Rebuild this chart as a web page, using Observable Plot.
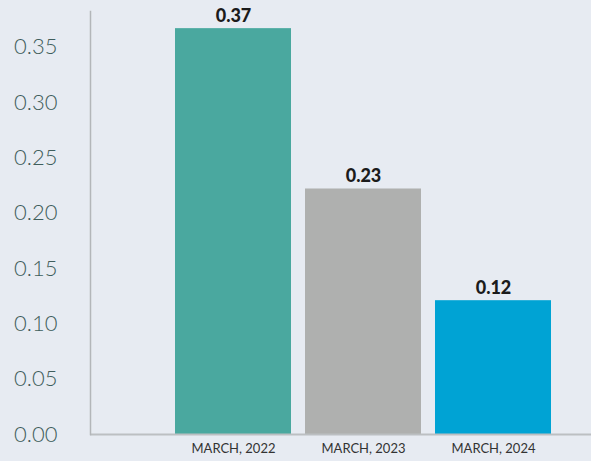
<!DOCTYPE html>
<html><head><meta charset="utf-8">
<script src="https://cdn.jsdelivr.net/npm/d3@7"></script>
<script src="https://cdn.jsdelivr.net/npm/@observablehq/plot@0.6"></script>
<style>
html,body{margin:0;padding:0;background:#e7ebf2;}
</style></head><body><div id="chart"></div>
<script>
const categories = ["MARCH, 2022", "MARCH, 2023", "MARCH, 2024"];
const values = [0.367, 0.222, 0.121];
const labels = ["0.37", "0.23", "0.12"];
const colors = ["#4aa89f", "#afb0af", "#00a3d4"];
const yTicks = [0, 0.05, 0.10, 0.15, 0.20, 0.25, 0.30, 0.35];

const data = categories.map((c, i) => ({category: c, value: values[i], label: labels[i]}));

const chart = Plot.plot({
  width: 591, height: 461,
  marginTop: 11, marginBottom: 27, marginLeft: 90, marginRight: 0,
  style: {background: "#e7ebf2", fontFamily: "Lato, sans-serif"},
  x: {domain: categories, range: [168, 558], paddingInner: 14/130, paddingOuter: 7/130, axis: null, label: null},
  y: {domain: [0, 0.3825], axis: null, label: null},
  color: {domain: categories, range: colors},
  marks: [
    Plot.barY(data, {x: "category", y: "value", fill: "category"}),
    Plot.ruleY([0], {stroke: "#bcbfc2", strokeWidth: 2}),
    Plot.frame({anchor: "left", stroke: "#b3b6b9", strokeWidth: 1.5}),
    Plot.axisY({ticks: yTicks, tickSize: 0, tickPadding: 33, label: null, tickFormat: d3.format(".2f"), fontSize: 22, fontWeight: 300, fill: "#3f5e5c"}),
    Plot.axisX({tickSize: 0, tickPadding: 9, label: null, fontSize: 13, fill: "#333333"}),
    Plot.text(data, {x: "category", y: "value", text: "label", dy: -7, lineAnchor: "bottom", fontWeight: 900, fontSize: 18, fill: "#1b1b1b"})
  ]
});
document.getElementById("chart").appendChild(chart);
</script>
</body></html>
